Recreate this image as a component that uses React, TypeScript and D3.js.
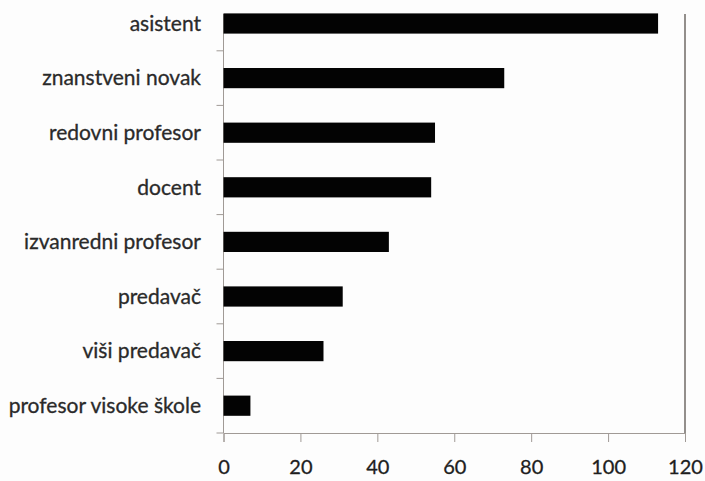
import React, { useEffect, useRef } from 'react';
import * as d3 from 'd3';

const categories = [
  'asistent',
  'znanstveni novak',
  'redovni profesor',
  'docent',
  'izvanredni profesor',
  'predavač',
  'viši predavač',
  'profesor visoke škole',
];
const counts = [113, 73, 55, 54, 43, 31, 26, 7];
const xTicks = [0, 20, 40, 60, 80, 100, 120];

const W = 705;
const H = 481;
const FONT = 'Lato, "Open Sans", sans-serif';

export default function App() {
  const svgRef = useRef<SVGSVGElement | null>(null);

  useEffect(() => {
    if (!svgRef.current) return;
    const svg = d3.select(svgRef.current);
    svg.selectAll('*').remove();

    // plot box: top edge falls just above the picture
    const left = 223.5;
    const right = 685;
    const top = -3.8;
    const bottom = 433;
    const visibleTop = 14;

    const x = d3.scaleLinear().domain([0, 120]).range([left, right]);
    const y = d3.scaleBand<string>()
      .domain(categories)
      .range([top, bottom])
      .paddingInner(0.63)
      .paddingOuter(0.315);

    svg.append('rect').attr('width', W).attr('height', H).attr('fill', '#fdfdfd');

    // right border
    svg.append('line')
      .attr('x1', right).attr('x2', right)
      .attr('y1', visibleTop).attr('y2', bottom)
      .attr('stroke', '#6f6a66').attr('stroke-width', 1.5);

    svg.append('line')
      .attr('x1', left).attr('x2', left)
      .attr('y1', visibleTop).attr('y2', bottom)
      .attr('stroke', '#a09a96').attr('stroke-width', 1);

    const step = y.step();
    const bounds = d3.range(categories.length).map(i => bottom - (i + 1) * step)
      .filter(v => v > visibleTop);
    bounds.push(bottom);
    svg.append('g')
      .selectAll('line')
      .data(bounds)
      .enter()
      .append('line')
      .attr('x1', left - 7).attr('x2', left)
      .attr('y1', d => d).attr('y2', d => d)
      .attr('stroke', '#a09a96');

    svg.append('g')
      .selectAll('text')
      .data(categories)
      .enter()
      .append('text')
      .attr('x', 201)
      .attr('y', d => (y(d) ?? 0) + y.bandwidth() / 2)
      .attr('dy', '0.35em')
      .attr('text-anchor', 'end')
      .attr('font-family', FONT)
      .attr('font-size', 21)
      .attr('fill', '#2a2a2a')
      .attr('stroke', '#2a2a2a')
      .attr('stroke-width', 0.3)
      .text(d => d);

    // value axis
    svg.append('g')
      .attr('transform', `translate(0,${bottom})`)
      .call(d3.axisBottom(x).tickValues(xTicks).tickSize(9).tickFormat(d => String(d)))
      .call(s => s.select('.domain').attr('stroke', '#a09a96'))
      .call(s => s.selectAll('.tick line').attr('stroke', '#a09a96'))
      .call(s => s.selectAll('.tick text')
        .attr('y', 34)
        .attr('dy', '0.35em')
        .attr('font-family', FONT)
        .attr('font-size', 20)
        .attr('fill', '#1e1e1e')
        .attr('stroke', '#1e1e1e')
        .attr('stroke-width', 0.3));

    // bars
    svg.append('g')
      .selectAll('rect')
      .data(categories)
      .enter()
      .append('rect')
      .attr('x', x(0))
      .attr('y', d => y(d) ?? 0)
      .attr('width', (_, i) => x(counts[i]) - x(0))
      .attr('height', y.bandwidth())
      .attr('fill', '#030303');
  }, []);

  return (
    <svg
      ref={svgRef}
      width={W}
      height={H}
      style={{ position: 'absolute', left: 0, top: 0 }}
    />
  );
}
